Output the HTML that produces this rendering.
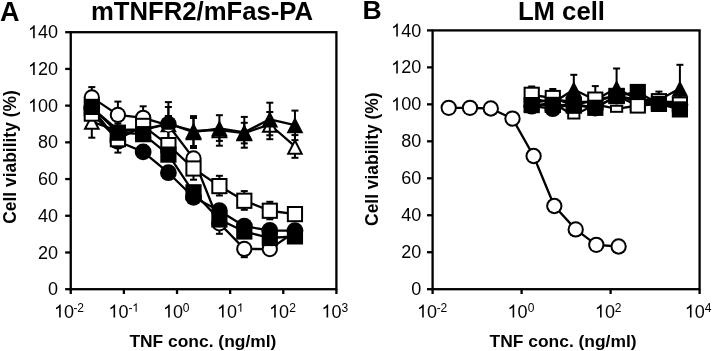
<!DOCTYPE html><html><head><meta charset="utf-8"><style>html,body{margin:0;padding:0;background:#fff;}svg{display:block;filter:grayscale(1);}</style></head><body><svg width="714" height="351" viewBox="0 0 714 351" font-family='"Liberation Sans", sans-serif'><rect width="714" height="351" fill="#fff"/><text x="0.0" y="20.6" font-size="27" font-weight="bold">A</text><text x="362.4" y="19.0" font-size="25.7" font-weight="bold" transform="translate(362.4,0) scale(1.035,1) translate(-362.4,0)">B</text><text x="90.9" y="20.3" font-size="25.7" font-weight="bold">mTNFR2/mFas-PA</text><text x="517.9" y="19.6" font-size="25.7" font-weight="bold">LM cell</text><text transform="translate(15.9,223.7) rotate(-90) scale(0.995,1)" font-size="17.5" font-weight="bold">Cell viability (%)</text><text transform="translate(378.4,225.9) rotate(-90) scale(0.995,1)" font-size="17.5" font-weight="bold">Cell viability (%)</text><text x="129.4" y="346.9" font-size="17.42" font-weight="bold">TNF conc. (ng/ml)</text><text x="489.6" y="346.9" font-size="17.42" font-weight="bold">TNF conc. (ng/ml)</text><rect x="70.75" y="32.20" width="265.65" height="257.00" fill="none" stroke="#000" stroke-width="2.3"/><line x1="65.15" y1="289.20" x2="70.75" y2="289.20" stroke="#000" stroke-width="2.3"/><text x="48.04" y="295.30" font-size="18">0</text><line x1="65.15" y1="252.49" x2="70.75" y2="252.49" stroke="#000" stroke-width="2.3"/><text x="38.03" y="258.59" font-size="18">20</text><line x1="65.15" y1="215.77" x2="70.75" y2="215.77" stroke="#000" stroke-width="2.3"/><text x="38.03" y="221.87" font-size="18">40</text><line x1="65.15" y1="179.06" x2="70.75" y2="179.06" stroke="#000" stroke-width="2.3"/><text x="38.03" y="185.16" font-size="18">60</text><line x1="65.15" y1="142.34" x2="70.75" y2="142.34" stroke="#000" stroke-width="2.3"/><text x="38.03" y="148.44" font-size="18">80</text><line x1="65.15" y1="105.63" x2="70.75" y2="105.63" stroke="#000" stroke-width="2.3"/><path d="M763 0L583 0L583 1147Q518 1085 415 1024Q312 964 223 931L223 1105Q374 1176 485 1275Q597 1374 647 1472L763 1472Z" transform="translate(28.02,111.73) scale(0.008789,-0.008789)"/><text x="38.03" y="111.73" font-size="18">00</text><line x1="65.15" y1="68.91" x2="70.75" y2="68.91" stroke="#000" stroke-width="2.3"/><path d="M763 0L583 0L583 1147Q518 1085 415 1024Q312 964 223 931L223 1105Q374 1176 485 1275Q597 1374 647 1472L763 1472Z" transform="translate(28.02,75.01) scale(0.008789,-0.008789)"/><text x="38.03" y="75.01" font-size="18">20</text><line x1="65.15" y1="32.20" x2="70.75" y2="32.20" stroke="#000" stroke-width="2.3"/><path d="M763 0L583 0L583 1147Q518 1085 415 1024Q312 964 223 931L223 1105Q374 1176 485 1275Q597 1374 647 1472L763 1472Z" transform="translate(28.02,38.30) scale(0.008789,-0.008789)"/><text x="38.03" y="38.30" font-size="18">40</text><rect x="432.60" y="30.40" width="267.00" height="258.80" fill="none" stroke="#000" stroke-width="2.3"/><line x1="427.00" y1="289.20" x2="432.60" y2="289.20" stroke="#000" stroke-width="2.3"/><text x="411.14" y="295.30" font-size="18">0</text><line x1="427.00" y1="252.23" x2="432.60" y2="252.23" stroke="#000" stroke-width="2.3"/><text x="401.13" y="258.33" font-size="18">20</text><line x1="427.00" y1="215.26" x2="432.60" y2="215.26" stroke="#000" stroke-width="2.3"/><text x="401.13" y="221.36" font-size="18">40</text><line x1="427.00" y1="178.29" x2="432.60" y2="178.29" stroke="#000" stroke-width="2.3"/><text x="401.13" y="184.39" font-size="18">60</text><line x1="427.00" y1="141.31" x2="432.60" y2="141.31" stroke="#000" stroke-width="2.3"/><text x="401.13" y="147.41" font-size="18">80</text><line x1="427.00" y1="104.34" x2="432.60" y2="104.34" stroke="#000" stroke-width="2.3"/><path d="M763 0L583 0L583 1147Q518 1085 415 1024Q312 964 223 931L223 1105Q374 1176 485 1275Q597 1374 647 1472L763 1472Z" transform="translate(391.12,110.44) scale(0.008789,-0.008789)"/><text x="401.13" y="110.44" font-size="18">00</text><line x1="427.00" y1="67.37" x2="432.60" y2="67.37" stroke="#000" stroke-width="2.3"/><path d="M763 0L583 0L583 1147Q518 1085 415 1024Q312 964 223 931L223 1105Q374 1176 485 1275Q597 1374 647 1472L763 1472Z" transform="translate(391.12,73.47) scale(0.008789,-0.008789)"/><text x="401.13" y="73.47" font-size="18">20</text><line x1="427.00" y1="30.40" x2="432.60" y2="30.40" stroke="#000" stroke-width="2.3"/><path d="M763 0L583 0L583 1147Q518 1085 415 1024Q312 964 223 931L223 1105Q374 1176 485 1275Q597 1374 647 1472L763 1472Z" transform="translate(391.12,36.50) scale(0.008789,-0.008789)"/><text x="401.13" y="36.50" font-size="18">40</text><line x1="70.75" y1="289.20" x2="70.75" y2="294.00" stroke="#000" stroke-width="2.3"/><line x1="123.88" y1="289.20" x2="123.88" y2="294.00" stroke="#000" stroke-width="2.3"/><line x1="177.01" y1="289.20" x2="177.01" y2="294.00" stroke="#000" stroke-width="2.3"/><line x1="230.14" y1="289.20" x2="230.14" y2="294.00" stroke="#000" stroke-width="2.3"/><line x1="283.27" y1="289.20" x2="283.27" y2="294.00" stroke="#000" stroke-width="2.3"/><line x1="336.40" y1="289.20" x2="336.40" y2="294.00" stroke="#000" stroke-width="2.3"/><line x1="432.60" y1="289.20" x2="432.60" y2="294.00" stroke="#000" stroke-width="2.3"/><line x1="521.60" y1="289.20" x2="521.60" y2="294.00" stroke="#000" stroke-width="2.3"/><line x1="610.60" y1="289.20" x2="610.60" y2="294.00" stroke="#000" stroke-width="2.3"/><line x1="699.60" y1="289.20" x2="699.60" y2="294.00" stroke="#000" stroke-width="2.3"/><path d="M763 0L583 0L583 1147Q518 1085 415 1024Q312 964 223 931L223 1105Q374 1176 485 1275Q597 1374 647 1472L763 1472Z" transform="translate(54.01,317.50) scale(0.008789,-0.008789)"/><text x="64.02" y="317.50" font-size="18">0</text><text x="73.60" y="311.8" font-size="12">-</text><text x="77.25" y="311.8" font-size="12">2</text><path d="M763 0L583 0L583 1147Q518 1085 415 1024Q312 964 223 931L223 1105Q374 1176 485 1275Q597 1374 647 1472L763 1472Z" transform="translate(108.41,317.50) scale(0.008789,-0.008789)"/><text x="118.42" y="317.50" font-size="18">0</text><text x="128.50" y="311.8" font-size="12">-</text><path d="M763 0L583 0L583 1147Q518 1085 415 1024Q312 964 223 931L223 1105Q374 1176 485 1275Q597 1374 647 1472L763 1472Z" transform="translate(132.20,311.80) scale(0.005859,-0.005859)"/><path d="M763 0L583 0L583 1147Q518 1085 415 1024Q312 964 223 931L223 1105Q374 1176 485 1275Q597 1374 647 1472L763 1472Z" transform="translate(163.06,317.50) scale(0.008789,-0.008789)"/><text x="173.07" y="317.50" font-size="18">0</text><text x="182.77" y="311.8" font-size="12">0</text><path d="M763 0L583 0L583 1147Q518 1085 415 1024Q312 964 223 931L223 1105Q374 1176 485 1275Q597 1374 647 1472L763 1472Z" transform="translate(216.91,317.50) scale(0.008789,-0.008789)"/><text x="226.92" y="317.50" font-size="18">0</text><path d="M763 0L583 0L583 1147Q518 1085 415 1024Q312 964 223 931L223 1105Q374 1176 485 1275Q597 1374 647 1472L763 1472Z" transform="translate(236.90,311.80) scale(0.005859,-0.005859)"/><path d="M763 0L583 0L583 1147Q518 1085 415 1024Q312 964 223 931L223 1105Q374 1176 485 1275Q597 1374 647 1472L763 1472Z" transform="translate(269.06,317.50) scale(0.008789,-0.008789)"/><text x="279.07" y="317.50" font-size="18">0</text><text x="289.25" y="311.8" font-size="12">2</text><path d="M763 0L583 0L583 1147Q518 1085 415 1024Q312 964 223 931L223 1105Q374 1176 485 1275Q597 1374 647 1472L763 1472Z" transform="translate(321.46,317.50) scale(0.008789,-0.008789)"/><text x="331.47" y="317.50" font-size="18">0</text><text x="341.41" y="311.8" font-size="12">3</text><path d="M763 0L583 0L583 1147Q518 1085 415 1024Q312 964 223 931L223 1105Q374 1176 485 1275Q597 1374 647 1472L763 1472Z" transform="translate(417.06,317.50) scale(0.008789,-0.008789)"/><text x="427.07" y="317.50" font-size="18">0</text><text x="436.80" y="311.8" font-size="12">-</text><text x="440.55" y="311.8" font-size="12">2</text><path d="M763 0L583 0L583 1147Q518 1085 415 1024Q312 964 223 931L223 1105Q374 1176 485 1275Q597 1374 647 1472L763 1472Z" transform="translate(507.51,317.50) scale(0.008789,-0.008789)"/><text x="517.52" y="317.50" font-size="18">0</text><text x="527.77" y="311.8" font-size="12">0</text><path d="M763 0L583 0L583 1147Q518 1085 415 1024Q312 964 223 931L223 1105Q374 1176 485 1275Q597 1374 647 1472L763 1472Z" transform="translate(594.91,317.50) scale(0.008789,-0.008789)"/><text x="604.92" y="317.50" font-size="18">0</text><text x="614.75" y="311.8" font-size="12">2</text><path d="M763 0L583 0L583 1147Q518 1085 415 1024Q312 964 223 931L223 1105Q374 1176 485 1275Q597 1374 647 1472L763 1472Z" transform="translate(684.81,317.50) scale(0.008789,-0.008789)"/><text x="694.82" y="317.50" font-size="18">0</text><text x="704.85" y="311.8" font-size="12">4</text><polyline points="91.80,121.60 117.90,131.00 143.15,130.00 168.40,124.00 193.50,130.80 219.40,130.00 244.30,133.10 269.80,124.50 294.95,146.45" fill="none" stroke="#000" stroke-width="2.3" stroke-linejoin="round"/><line x1="91.80" y1="121.60" x2="91.80" y2="137.70" stroke="#000" stroke-width="2.0"/><line x1="88.30" y1="137.70" x2="95.30" y2="137.70" stroke="#000" stroke-width="2.0"/><line x1="168.40" y1="124.00" x2="168.40" y2="107.00" stroke="#000" stroke-width="2.0"/><line x1="164.90" y1="107.00" x2="171.90" y2="107.00" stroke="#000" stroke-width="2.0"/><line x1="168.40" y1="124.00" x2="168.40" y2="140.00" stroke="#000" stroke-width="2.0"/><line x1="164.90" y1="140.00" x2="171.90" y2="140.00" stroke="#000" stroke-width="2.0"/><line x1="193.50" y1="130.80" x2="193.50" y2="118.00" stroke="#000" stroke-width="2.0"/><line x1="190.00" y1="118.00" x2="197.00" y2="118.00" stroke="#000" stroke-width="2.0"/><line x1="193.50" y1="130.80" x2="193.50" y2="146.00" stroke="#000" stroke-width="2.0"/><line x1="190.00" y1="146.00" x2="197.00" y2="146.00" stroke="#000" stroke-width="2.0"/><line x1="219.40" y1="130.00" x2="219.40" y2="115.20" stroke="#000" stroke-width="2.0"/><line x1="215.90" y1="115.20" x2="222.90" y2="115.20" stroke="#000" stroke-width="2.0"/><line x1="219.40" y1="130.00" x2="219.40" y2="145.70" stroke="#000" stroke-width="2.0"/><line x1="215.90" y1="145.70" x2="222.90" y2="145.70" stroke="#000" stroke-width="2.0"/><line x1="244.30" y1="133.10" x2="244.30" y2="122.80" stroke="#000" stroke-width="2.0"/><line x1="240.80" y1="122.80" x2="247.80" y2="122.80" stroke="#000" stroke-width="2.0"/><line x1="244.30" y1="133.10" x2="244.30" y2="143.40" stroke="#000" stroke-width="2.0"/><line x1="240.80" y1="143.40" x2="247.80" y2="143.40" stroke="#000" stroke-width="2.0"/><line x1="269.80" y1="124.50" x2="269.80" y2="112.00" stroke="#000" stroke-width="2.0"/><line x1="266.30" y1="112.00" x2="273.30" y2="112.00" stroke="#000" stroke-width="2.0"/><line x1="269.80" y1="124.50" x2="269.80" y2="139.20" stroke="#000" stroke-width="2.0"/><line x1="266.30" y1="139.20" x2="273.30" y2="139.20" stroke="#000" stroke-width="2.0"/><line x1="294.95" y1="146.45" x2="294.95" y2="135.10" stroke="#000" stroke-width="2.0"/><line x1="291.45" y1="135.10" x2="298.45" y2="135.10" stroke="#000" stroke-width="2.0"/><line x1="294.95" y1="146.45" x2="294.95" y2="157.80" stroke="#000" stroke-width="2.0"/><line x1="291.45" y1="157.80" x2="298.45" y2="157.80" stroke="#000" stroke-width="2.0"/><polygon points="91.80,113.40 83.40,129.80 100.20,129.80" fill="#000"/><polygon points="91.80,117.79 86.67,127.80 96.93,127.80" fill="#fff"/><polygon points="117.90,122.80 109.50,139.20 126.30,139.20" fill="#000"/><polygon points="117.90,127.19 112.77,137.20 123.03,137.20" fill="#fff"/><polygon points="143.15,121.80 134.75,138.20 151.55,138.20" fill="#000"/><polygon points="143.15,126.19 138.02,136.20 148.28,136.20" fill="#fff"/><polygon points="168.40,115.80 160.00,132.20 176.80,132.20" fill="#000"/><polygon points="168.40,120.19 163.27,130.20 173.53,130.20" fill="#fff"/><polygon points="193.50,122.60 185.10,139.00 201.90,139.00" fill="#000"/><polygon points="193.50,126.99 188.37,137.00 198.63,137.00" fill="#fff"/><polygon points="219.40,121.80 211.00,138.20 227.80,138.20" fill="#000"/><polygon points="219.40,126.19 214.27,136.20 224.53,136.20" fill="#fff"/><polygon points="244.30,124.90 235.90,141.30 252.70,141.30" fill="#000"/><polygon points="244.30,129.29 239.17,139.30 249.43,139.30" fill="#fff"/><polygon points="269.80,116.30 261.40,132.70 278.20,132.70" fill="#000"/><polygon points="269.80,120.69 264.67,130.70 274.93,130.70" fill="#fff"/><polygon points="294.95,138.25 286.55,154.65 303.35,154.65" fill="#000"/><polygon points="294.95,142.64 289.82,152.65 300.08,152.65" fill="#fff"/><polyline points="91.80,97.40 117.90,114.90 143.15,117.80 168.40,125.30 193.50,158.40 219.40,223.30 244.30,248.90 269.80,249.10 294.95,231.70" fill="none" stroke="#000" stroke-width="2.3" stroke-linejoin="round"/><line x1="91.80" y1="97.40" x2="91.80" y2="87.10" stroke="#000" stroke-width="2.0"/><line x1="88.30" y1="87.10" x2="95.30" y2="87.10" stroke="#000" stroke-width="2.0"/><line x1="117.90" y1="114.90" x2="117.90" y2="101.60" stroke="#000" stroke-width="2.0"/><line x1="114.40" y1="101.60" x2="121.40" y2="101.60" stroke="#000" stroke-width="2.0"/><line x1="143.15" y1="117.80" x2="143.15" y2="106.30" stroke="#000" stroke-width="2.0"/><line x1="139.65" y1="106.30" x2="146.65" y2="106.30" stroke="#000" stroke-width="2.0"/><line x1="219.40" y1="223.30" x2="219.40" y2="233.80" stroke="#000" stroke-width="2.0"/><line x1="215.90" y1="233.80" x2="222.90" y2="233.80" stroke="#000" stroke-width="2.0"/><line x1="244.30" y1="248.90" x2="244.30" y2="257.20" stroke="#000" stroke-width="2.0"/><line x1="240.80" y1="257.20" x2="247.80" y2="257.20" stroke="#000" stroke-width="2.0"/><circle cx="91.80" cy="97.40" r="8.15" fill="#000"/><circle cx="91.80" cy="97.40" r="6.15" fill="#fff"/><circle cx="117.90" cy="114.90" r="8.15" fill="#000"/><circle cx="117.90" cy="114.90" r="6.15" fill="#fff"/><circle cx="143.15" cy="117.80" r="8.15" fill="#000"/><circle cx="143.15" cy="117.80" r="6.15" fill="#fff"/><circle cx="193.50" cy="158.40" r="8.15" fill="#000"/><circle cx="193.50" cy="158.40" r="6.15" fill="#fff"/><circle cx="219.40" cy="223.30" r="8.15" fill="#000"/><circle cx="219.40" cy="223.30" r="6.15" fill="#fff"/><circle cx="244.30" cy="248.90" r="8.15" fill="#000"/><circle cx="244.30" cy="248.90" r="6.15" fill="#fff"/><circle cx="269.80" cy="249.10" r="8.15" fill="#000"/><circle cx="269.80" cy="249.10" r="6.15" fill="#fff"/><circle cx="294.95" cy="231.70" r="8.15" fill="#000"/><circle cx="294.95" cy="231.70" r="6.15" fill="#fff"/><polyline points="91.80,108.00 117.90,130.00 143.15,129.40 168.40,123.50 193.50,132.10 219.40,128.30 244.30,132.30 269.80,119.30 294.95,125.10" fill="none" stroke="#000" stroke-width="2.3" stroke-linejoin="round"/><line x1="168.40" y1="123.50" x2="168.40" y2="102.10" stroke="#000" stroke-width="2.0"/><line x1="164.90" y1="102.10" x2="171.90" y2="102.10" stroke="#000" stroke-width="2.0"/><line x1="168.40" y1="123.50" x2="168.40" y2="144.90" stroke="#000" stroke-width="2.0"/><line x1="164.90" y1="144.90" x2="171.90" y2="144.90" stroke="#000" stroke-width="2.0"/><line x1="193.50" y1="132.10" x2="193.50" y2="116.10" stroke="#000" stroke-width="2.0"/><line x1="190.00" y1="116.10" x2="197.00" y2="116.10" stroke="#000" stroke-width="2.0"/><line x1="193.50" y1="132.10" x2="193.50" y2="148.00" stroke="#000" stroke-width="2.0"/><line x1="190.00" y1="148.00" x2="197.00" y2="148.00" stroke="#000" stroke-width="2.0"/><line x1="219.40" y1="128.30" x2="219.40" y2="140.90" stroke="#000" stroke-width="2.0"/><line x1="215.90" y1="140.90" x2="222.90" y2="140.90" stroke="#000" stroke-width="2.0"/><line x1="244.30" y1="132.30" x2="244.30" y2="116.90" stroke="#000" stroke-width="2.0"/><line x1="240.80" y1="116.90" x2="247.80" y2="116.90" stroke="#000" stroke-width="2.0"/><line x1="244.30" y1="132.30" x2="244.30" y2="147.70" stroke="#000" stroke-width="2.0"/><line x1="240.80" y1="147.70" x2="247.80" y2="147.70" stroke="#000" stroke-width="2.0"/><line x1="269.80" y1="119.30" x2="269.80" y2="102.70" stroke="#000" stroke-width="2.0"/><line x1="266.30" y1="102.70" x2="273.30" y2="102.70" stroke="#000" stroke-width="2.0"/><line x1="269.80" y1="119.30" x2="269.80" y2="135.30" stroke="#000" stroke-width="2.0"/><line x1="266.30" y1="135.30" x2="273.30" y2="135.30" stroke="#000" stroke-width="2.0"/><line x1="294.95" y1="125.10" x2="294.95" y2="110.60" stroke="#000" stroke-width="2.0"/><line x1="291.45" y1="110.60" x2="298.45" y2="110.60" stroke="#000" stroke-width="2.0"/><line x1="294.95" y1="125.10" x2="294.95" y2="140.10" stroke="#000" stroke-width="2.0"/><line x1="291.45" y1="140.10" x2="298.45" y2="140.10" stroke="#000" stroke-width="2.0"/><polygon points="91.80,99.80 83.40,116.20 100.20,116.20" fill="#000"/><polygon points="117.90,121.80 109.50,138.20 126.30,138.20" fill="#000"/><polygon points="143.15,121.20 134.75,137.60 151.55,137.60" fill="#000"/><polygon points="193.50,123.90 185.10,140.30 201.90,140.30" fill="#000"/><polygon points="219.40,120.10 211.00,136.50 227.80,136.50" fill="#000"/><polygon points="244.30,124.10 235.90,140.50 252.70,140.50" fill="#000"/><polygon points="269.80,111.10 261.40,127.50 278.20,127.50" fill="#000"/><polygon points="294.95,116.90 286.55,133.30 303.35,133.30" fill="#000"/><circle cx="168.40" cy="124.2" r="8.3" fill="#000"/><path d="M163.86,129.80 A6.9,6.9 0 0 0 172.94,129.80 Z" fill="#fff"/><line x1="164.80" y1="116.00" x2="172.00" y2="116.00" stroke="#000" stroke-width="2.0"/><polyline points="91.80,108.00 117.90,141.30 143.15,151.90 168.40,172.70 193.50,197.30 219.40,210.70 244.30,226.20 269.80,230.50 294.95,230.60" fill="none" stroke="#000" stroke-width="2.3" stroke-linejoin="round"/><circle cx="91.80" cy="108.00" r="8.40" fill="#000"/><circle cx="117.90" cy="141.30" r="8.40" fill="#000"/><circle cx="143.15" cy="151.90" r="8.40" fill="#000"/><circle cx="168.40" cy="172.70" r="8.40" fill="#000"/><circle cx="193.50" cy="197.30" r="8.40" fill="#000"/><circle cx="219.40" cy="210.70" r="8.40" fill="#000"/><circle cx="244.30" cy="226.20" r="8.40" fill="#000"/><circle cx="269.80" cy="230.50" r="8.40" fill="#000"/><circle cx="294.95" cy="230.60" r="8.40" fill="#000"/><polyline points="91.80,113.60 117.90,139.20 143.15,125.90 168.40,145.10 193.50,168.50 219.40,186.10 244.30,200.75 269.80,210.75 294.95,214.10" fill="none" stroke="#000" stroke-width="2.3" stroke-linejoin="round"/><line x1="117.90" y1="139.20" x2="117.90" y2="152.60" stroke="#000" stroke-width="2.0"/><line x1="114.40" y1="152.60" x2="121.40" y2="152.60" stroke="#000" stroke-width="2.0"/><line x1="193.50" y1="168.50" x2="193.50" y2="179.70" stroke="#000" stroke-width="2.0"/><line x1="190.00" y1="179.70" x2="197.00" y2="179.70" stroke="#000" stroke-width="2.0"/><line x1="219.40" y1="186.10" x2="219.40" y2="175.80" stroke="#000" stroke-width="2.0"/><line x1="215.90" y1="175.80" x2="222.90" y2="175.80" stroke="#000" stroke-width="2.0"/><line x1="219.40" y1="186.10" x2="219.40" y2="195.50" stroke="#000" stroke-width="2.0"/><line x1="215.90" y1="195.50" x2="222.90" y2="195.50" stroke="#000" stroke-width="2.0"/><line x1="244.30" y1="200.75" x2="244.30" y2="191.10" stroke="#000" stroke-width="2.0"/><line x1="240.80" y1="191.10" x2="247.80" y2="191.10" stroke="#000" stroke-width="2.0"/><line x1="244.30" y1="200.75" x2="244.30" y2="209.80" stroke="#000" stroke-width="2.0"/><line x1="240.80" y1="209.80" x2="247.80" y2="209.80" stroke="#000" stroke-width="2.0"/><line x1="269.80" y1="210.75" x2="269.80" y2="201.80" stroke="#000" stroke-width="2.0"/><line x1="266.30" y1="201.80" x2="273.30" y2="201.80" stroke="#000" stroke-width="2.0"/><line x1="269.80" y1="210.75" x2="269.80" y2="219.30" stroke="#000" stroke-width="2.0"/><line x1="266.30" y1="219.30" x2="273.30" y2="219.30" stroke="#000" stroke-width="2.0"/><rect x="83.70" y="105.50" width="16.20" height="16.20" fill="#000"/><rect x="85.70" y="107.50" width="12.20" height="12.20" fill="#fff"/><rect x="109.80" y="131.10" width="16.20" height="16.20" fill="#000"/><rect x="111.80" y="133.10" width="12.20" height="12.20" fill="#fff"/><rect x="135.05" y="117.80" width="16.20" height="16.20" fill="#000"/><rect x="137.05" y="119.80" width="12.20" height="12.20" fill="#fff"/><rect x="160.30" y="137.00" width="16.20" height="16.20" fill="#000"/><rect x="162.30" y="139.00" width="12.20" height="12.20" fill="#fff"/><rect x="185.40" y="160.40" width="16.20" height="16.20" fill="#000"/><rect x="187.40" y="162.40" width="12.20" height="12.20" fill="#fff"/><rect x="211.30" y="178.00" width="16.20" height="16.20" fill="#000"/><rect x="213.30" y="180.00" width="12.20" height="12.20" fill="#fff"/><rect x="236.20" y="192.65" width="16.20" height="16.20" fill="#000"/><rect x="238.20" y="194.65" width="12.20" height="12.20" fill="#fff"/><rect x="261.70" y="202.65" width="16.20" height="16.20" fill="#000"/><rect x="263.70" y="204.65" width="12.20" height="12.20" fill="#fff"/><rect x="286.85" y="206.00" width="16.20" height="16.20" fill="#000"/><rect x="288.85" y="208.00" width="12.20" height="12.20" fill="#fff"/><polyline points="91.80,106.90 117.90,132.70 143.15,134.15 168.40,154.60 193.50,192.30 219.40,219.50 244.30,231.50 269.80,238.00 294.95,236.40" fill="none" stroke="#000" stroke-width="2.3" stroke-linejoin="round"/><line x1="117.90" y1="132.70" x2="117.90" y2="123.60" stroke="#000" stroke-width="2.0"/><line x1="114.40" y1="123.60" x2="121.40" y2="123.60" stroke="#000" stroke-width="2.0"/><rect x="83.70" y="98.80" width="16.20" height="16.20" fill="#000"/><rect x="109.80" y="124.60" width="16.20" height="16.20" fill="#000"/><rect x="135.05" y="126.05" width="16.20" height="16.20" fill="#000"/><rect x="160.30" y="146.50" width="16.20" height="16.20" fill="#000"/><rect x="185.40" y="184.20" width="16.20" height="16.20" fill="#000"/><rect x="211.30" y="211.40" width="16.20" height="16.20" fill="#000"/><rect x="236.20" y="223.40" width="16.20" height="16.20" fill="#000"/><rect x="261.70" y="229.90" width="16.20" height="16.20" fill="#000"/><rect x="286.85" y="228.30" width="16.20" height="16.20" fill="#000"/><polyline points="448.70,107.80 470.00,107.80 490.80,108.50 512.50,118.60 533.60,156.00 554.30,206.00 575.70,229.40 596.30,244.80 618.60,246.50" fill="none" stroke="#000" stroke-width="2.3" stroke-linejoin="round"/><circle cx="448.70" cy="107.80" r="8.15" fill="#000"/><circle cx="448.70" cy="107.80" r="6.15" fill="#fff"/><circle cx="470.00" cy="107.80" r="8.15" fill="#000"/><circle cx="470.00" cy="107.80" r="6.15" fill="#fff"/><circle cx="490.80" cy="108.50" r="8.15" fill="#000"/><circle cx="490.80" cy="108.50" r="6.15" fill="#fff"/><circle cx="512.50" cy="118.60" r="8.15" fill="#000"/><circle cx="512.50" cy="118.60" r="6.15" fill="#fff"/><circle cx="533.60" cy="156.00" r="8.15" fill="#000"/><circle cx="533.60" cy="156.00" r="6.15" fill="#fff"/><circle cx="554.30" cy="206.00" r="8.15" fill="#000"/><circle cx="554.30" cy="206.00" r="6.15" fill="#fff"/><circle cx="575.70" cy="229.40" r="8.15" fill="#000"/><circle cx="575.70" cy="229.40" r="6.15" fill="#fff"/><circle cx="596.30" cy="244.80" r="8.15" fill="#000"/><circle cx="596.30" cy="244.80" r="6.15" fill="#fff"/><circle cx="618.60" cy="246.50" r="8.15" fill="#000"/><circle cx="618.60" cy="246.50" r="6.15" fill="#fff"/><polyline points="531.70,103.00 552.80,99.50 573.80,102.00 595.30,102.00 616.60,95.00 637.80,102.00 658.90,102.00 679.90,102.00" fill="none" stroke="#000" stroke-width="2.3" stroke-linejoin="round"/><polygon points="531.70,94.80 523.30,111.20 540.10,111.20" fill="#000"/><polygon points="531.70,99.19 526.57,109.20 536.83,109.20" fill="#fff"/><polygon points="552.80,91.30 544.40,107.70 561.20,107.70" fill="#000"/><polygon points="552.80,95.69 547.67,105.70 557.93,105.70" fill="#fff"/><polygon points="573.80,93.80 565.40,110.20 582.20,110.20" fill="#000"/><polygon points="573.80,98.19 568.67,108.20 578.93,108.20" fill="#fff"/><polygon points="595.30,93.80 586.90,110.20 603.70,110.20" fill="#000"/><polygon points="595.30,98.19 590.17,108.20 600.43,108.20" fill="#fff"/><polygon points="616.60,86.80 608.20,103.20 625.00,103.20" fill="#000"/><polygon points="616.60,91.19 611.47,101.20 621.73,101.20" fill="#fff"/><polygon points="637.80,93.80 629.40,110.20 646.20,110.20" fill="#000"/><polygon points="637.80,98.19 632.67,108.20 642.93,108.20" fill="#fff"/><polygon points="658.90,93.80 650.50,110.20 667.30,110.20" fill="#000"/><polygon points="658.90,98.19 653.77,108.20 664.03,108.20" fill="#fff"/><polygon points="679.90,93.80 671.50,110.20 688.30,110.20" fill="#000"/><polygon points="679.90,98.19 674.77,108.20 685.03,108.20" fill="#fff"/><polyline points="531.70,98.00 552.80,103.00 573.80,89.50 595.30,100.00 616.60,88.10 637.80,100.00 658.90,100.00 679.90,88.60" fill="none" stroke="#000" stroke-width="2.3" stroke-linejoin="round"/><line x1="573.80" y1="89.50" x2="573.80" y2="74.80" stroke="#000" stroke-width="2.0"/><line x1="570.30" y1="74.80" x2="577.30" y2="74.80" stroke="#000" stroke-width="2.0"/><line x1="616.60" y1="88.10" x2="616.60" y2="68.50" stroke="#000" stroke-width="2.0"/><line x1="613.10" y1="68.50" x2="620.10" y2="68.50" stroke="#000" stroke-width="2.0"/><line x1="679.90" y1="88.60" x2="679.90" y2="64.80" stroke="#000" stroke-width="2.0"/><line x1="676.40" y1="64.80" x2="683.40" y2="64.80" stroke="#000" stroke-width="2.0"/><polygon points="531.70,89.80 523.30,106.20 540.10,106.20" fill="#000"/><polygon points="552.80,94.80 544.40,111.20 561.20,111.20" fill="#000"/><polygon points="573.80,81.30 565.40,97.70 582.20,97.70" fill="#000"/><polygon points="595.30,91.80 586.90,108.20 603.70,108.20" fill="#000"/><polygon points="616.60,79.90 608.20,96.30 625.00,96.30" fill="#000"/><polygon points="637.80,91.80 629.40,108.20 646.20,108.20" fill="#000"/><polygon points="658.90,91.80 650.50,108.20 667.30,108.20" fill="#000"/><polygon points="679.90,80.40 671.50,96.80 688.30,96.80" fill="#000"/><polyline points="531.70,106.20 552.80,108.70 573.80,104.00 595.30,108.00 616.60,96.00 637.80,100.00 658.90,102.00 679.90,105.00" fill="none" stroke="#000" stroke-width="2.3" stroke-linejoin="round"/><circle cx="531.70" cy="106.20" r="8.40" fill="#000"/><circle cx="552.80" cy="108.70" r="8.40" fill="#000"/><circle cx="573.80" cy="104.00" r="8.40" fill="#000"/><circle cx="595.30" cy="108.00" r="8.40" fill="#000"/><circle cx="616.60" cy="96.00" r="8.40" fill="#000"/><circle cx="637.80" cy="100.00" r="8.40" fill="#000"/><circle cx="658.90" cy="102.00" r="8.40" fill="#000"/><circle cx="679.90" cy="105.00" r="8.40" fill="#000"/><polyline points="531.70,106.00 552.80,103.00 573.80,115.50 595.30,104.30 616.60,108.80 637.80,105.50 658.90,104.00 679.90,106.00" fill="none" stroke="#000" stroke-width="2.3" stroke-linejoin="round"/><rect x="525.10" y="102.00" width="13.20" height="8.00" fill="#000"/><rect x="527.05" y="103.95" width="9.30" height="4.10" fill="#fff"/><rect x="546.20" y="99.00" width="13.20" height="8.00" fill="#000"/><rect x="548.15" y="100.95" width="9.30" height="4.10" fill="#fff"/><rect x="567.20" y="111.50" width="13.20" height="8.00" fill="#000"/><rect x="569.15" y="113.45" width="9.30" height="4.10" fill="#fff"/><rect x="588.70" y="100.30" width="13.20" height="8.00" fill="#000"/><rect x="590.65" y="102.25" width="9.30" height="4.10" fill="#fff"/><rect x="610.00" y="104.80" width="13.20" height="8.00" fill="#000"/><rect x="611.95" y="106.75" width="9.30" height="4.10" fill="#fff"/><rect x="631.20" y="101.50" width="13.20" height="8.00" fill="#000"/><rect x="633.15" y="103.45" width="9.30" height="4.10" fill="#fff"/><rect x="652.30" y="100.00" width="13.20" height="8.00" fill="#000"/><rect x="654.25" y="101.95" width="9.30" height="4.10" fill="#fff"/><rect x="673.30" y="102.00" width="13.20" height="8.00" fill="#000"/><rect x="675.25" y="103.95" width="9.30" height="4.10" fill="#fff"/><polyline points="531.70,94.80 552.80,98.00 573.80,105.50 595.30,99.60 616.60,96.00 637.80,105.50 658.90,101.20 679.90,104.50" fill="none" stroke="#000" stroke-width="2.3" stroke-linejoin="round"/><line x1="531.70" y1="94.80" x2="531.70" y2="86.50" stroke="#000" stroke-width="2.0"/><line x1="528.20" y1="86.50" x2="535.20" y2="86.50" stroke="#000" stroke-width="2.0"/><line x1="552.80" y1="98.00" x2="552.80" y2="89.00" stroke="#000" stroke-width="2.0"/><line x1="549.30" y1="89.00" x2="556.30" y2="89.00" stroke="#000" stroke-width="2.0"/><line x1="595.30" y1="99.60" x2="595.30" y2="86.10" stroke="#000" stroke-width="2.0"/><line x1="591.80" y1="86.10" x2="598.80" y2="86.10" stroke="#000" stroke-width="2.0"/><line x1="658.90" y1="101.20" x2="658.90" y2="91.60" stroke="#000" stroke-width="2.0"/><line x1="655.40" y1="91.60" x2="662.40" y2="91.60" stroke="#000" stroke-width="2.0"/><rect x="523.60" y="86.70" width="16.20" height="16.20" fill="#000"/><rect x="525.60" y="88.70" width="12.20" height="12.20" fill="#fff"/><rect x="544.70" y="89.90" width="16.20" height="16.20" fill="#000"/><rect x="546.70" y="91.90" width="12.20" height="12.20" fill="#fff"/><rect x="565.70" y="97.40" width="16.20" height="16.20" fill="#000"/><rect x="567.70" y="99.40" width="12.20" height="12.20" fill="#fff"/><rect x="587.20" y="91.50" width="16.20" height="16.20" fill="#000"/><rect x="589.20" y="93.50" width="12.20" height="12.20" fill="#fff"/><rect x="608.50" y="87.90" width="16.20" height="16.20" fill="#000"/><rect x="610.50" y="89.90" width="12.20" height="12.20" fill="#fff"/><rect x="629.70" y="97.40" width="16.20" height="16.20" fill="#000"/><rect x="631.70" y="99.40" width="12.20" height="12.20" fill="#fff"/><rect x="650.80" y="93.10" width="16.20" height="16.20" fill="#000"/><rect x="652.80" y="95.10" width="12.20" height="12.20" fill="#fff"/><rect x="671.80" y="96.40" width="16.20" height="16.20" fill="#000"/><rect x="673.80" y="98.40" width="12.20" height="12.20" fill="#fff"/><polyline points="531.70,105.10 552.80,104.90 573.80,105.20 595.30,107.80 616.60,96.00 637.80,92.00 658.90,103.90 679.90,109.40" fill="none" stroke="#000" stroke-width="2.3" stroke-linejoin="round"/><rect x="523.60" y="97.00" width="16.20" height="16.20" fill="#000"/><rect x="544.70" y="96.80" width="16.20" height="16.20" fill="#000"/><rect x="565.70" y="97.10" width="16.20" height="16.20" fill="#000"/><rect x="587.20" y="99.70" width="16.20" height="16.20" fill="#000"/><rect x="608.50" y="87.90" width="16.20" height="16.20" fill="#000"/><rect x="629.70" y="83.90" width="16.20" height="16.20" fill="#000"/><rect x="650.80" y="95.80" width="16.20" height="16.20" fill="#000"/><rect x="671.80" y="101.30" width="16.20" height="16.20" fill="#000"/></svg></body></html>
